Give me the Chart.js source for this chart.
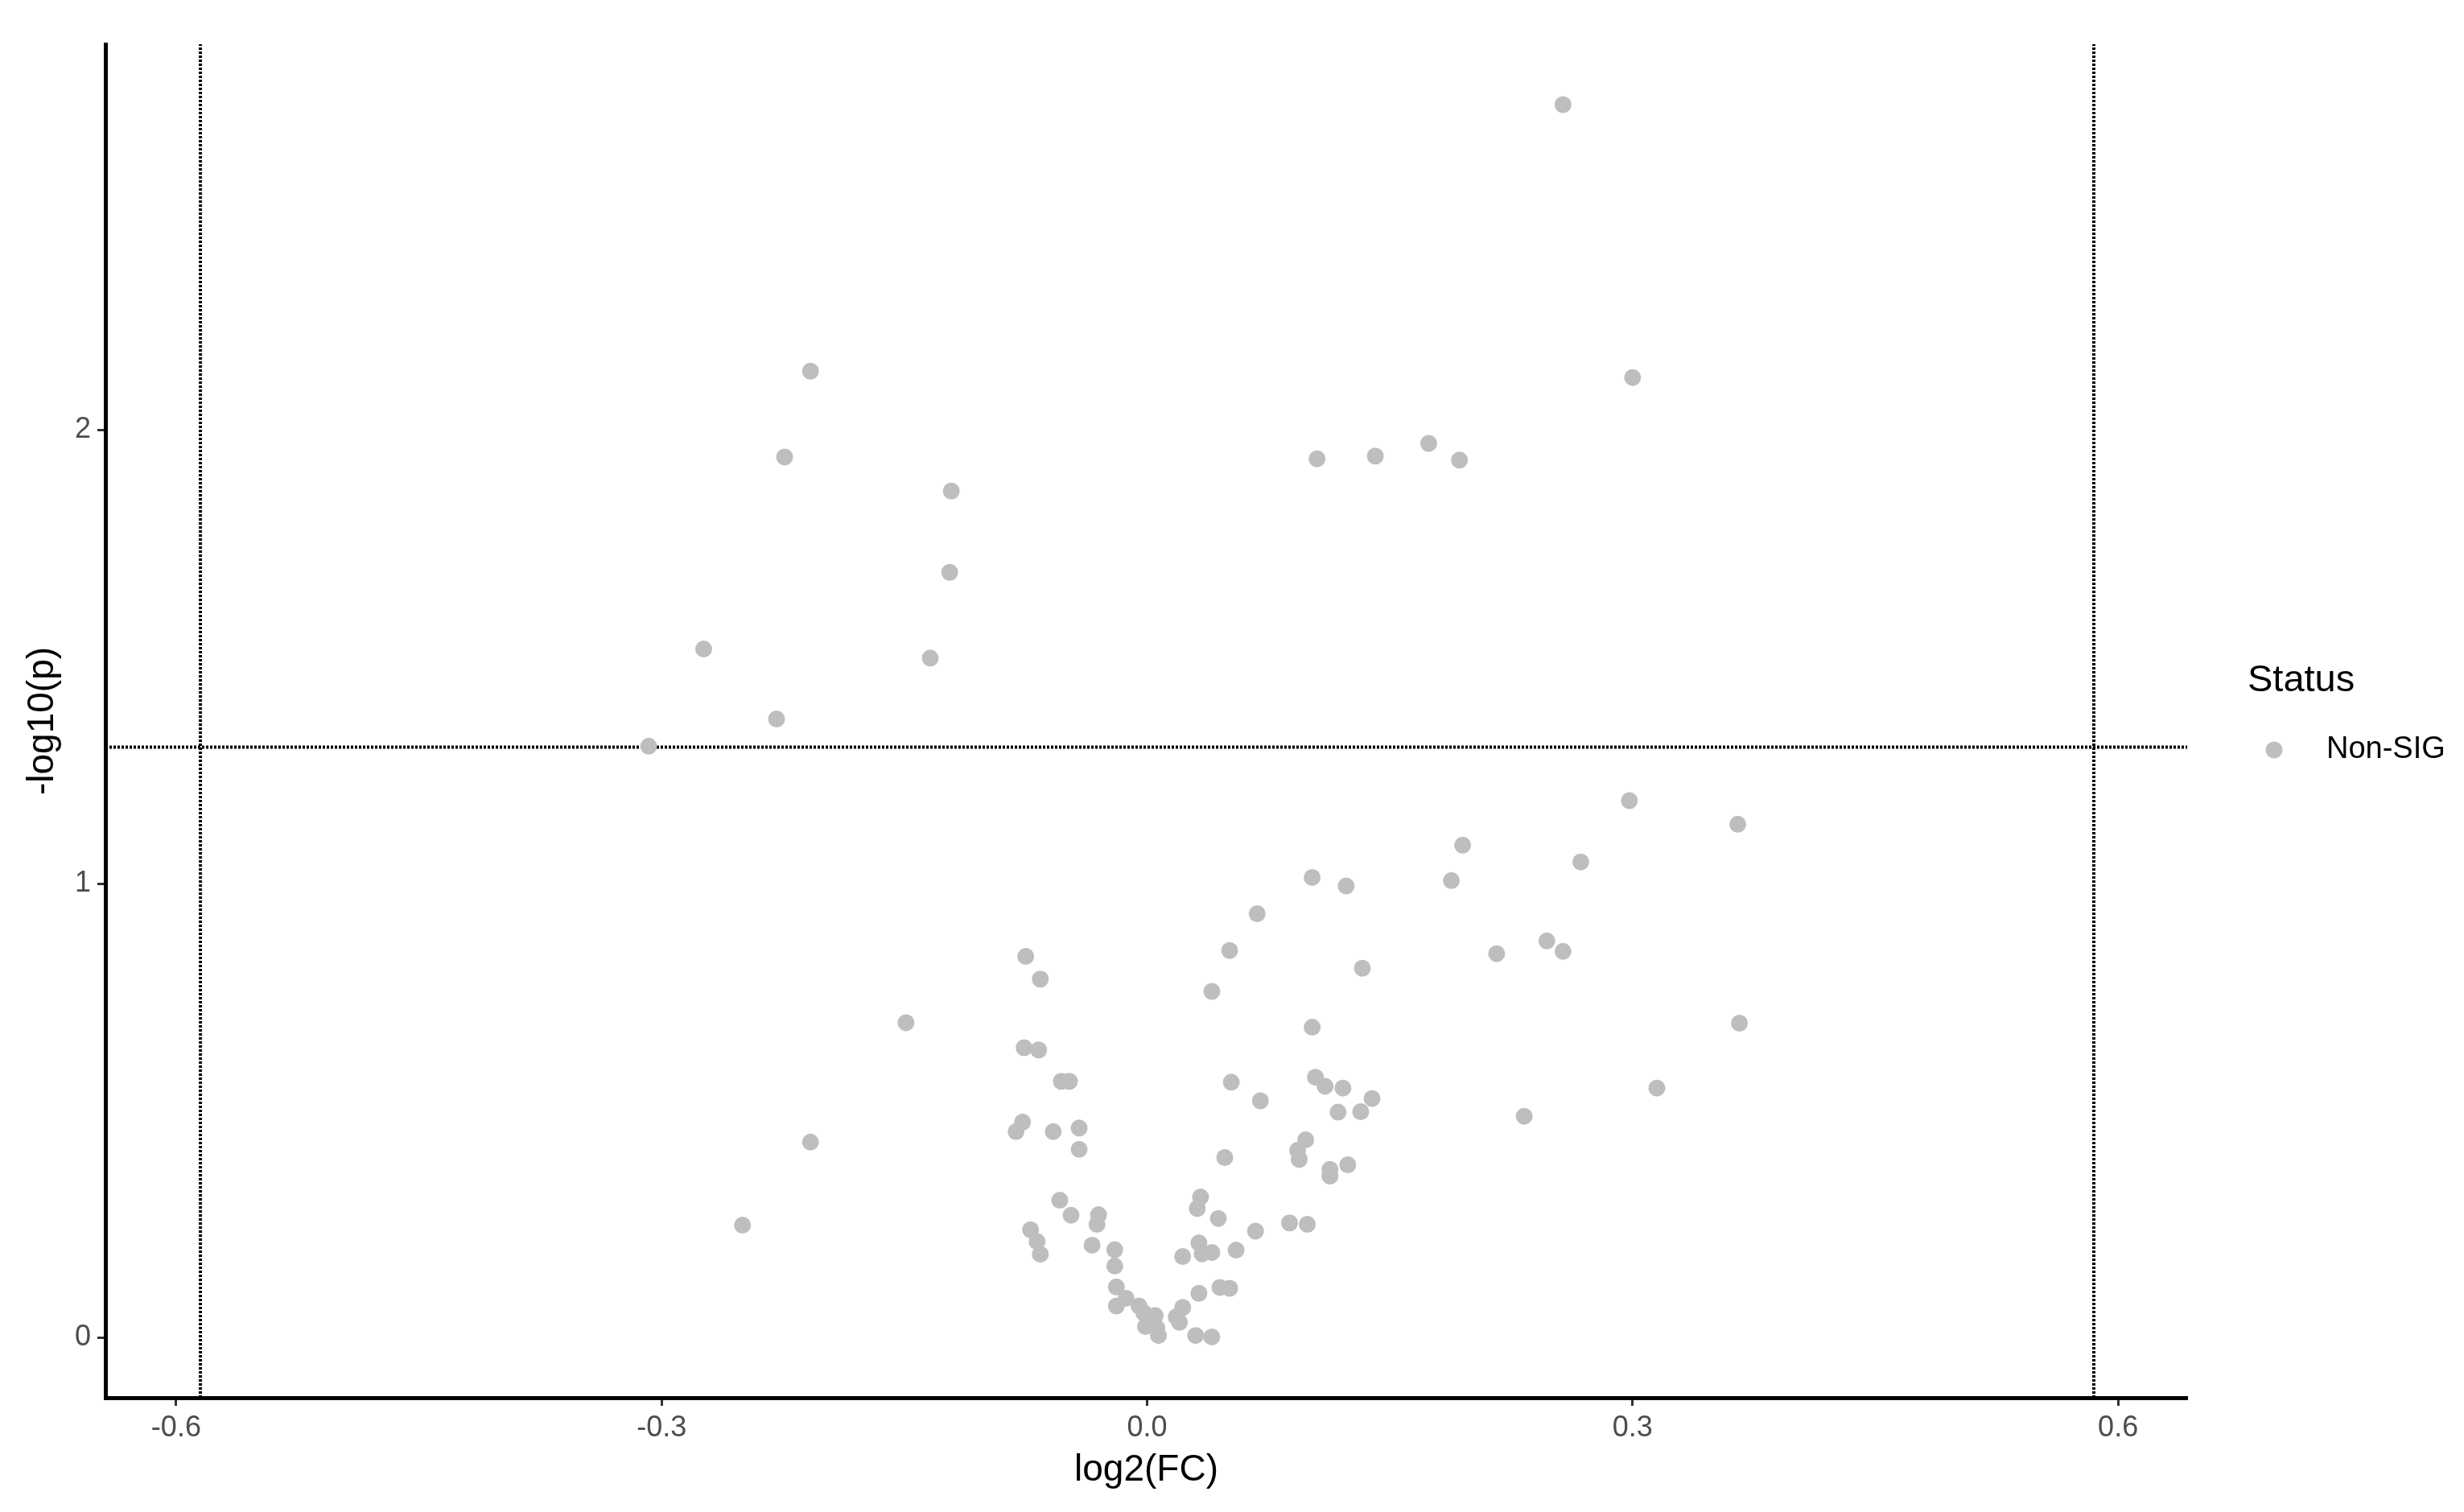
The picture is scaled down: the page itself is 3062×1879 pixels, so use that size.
<!DOCTYPE html>
<html>
<head>
<meta charset="utf-8">
<title>Volcano plot</title>
<script src="https://cdn.jsdelivr.net/npm/chart.js@4.4.1/dist/chart.umd.min.js"></script>
<style>
    body { margin: 0; background: #ffffff; }
    #volcano { display: block; }
</style>
</head>
<body>
<canvas id="volcano" width="3062" height="1879"></canvas>
<script>
// log2 fold change of each feature
const log2FC = [
    0.257, -0.208, 0.300, -0.224, 0.105, 0.141, 0.174, 0.193, -0.121, -0.122,
    -0.274, -0.134, -0.229, -0.308, 0.298, 0.365, 0.195, 0.268, 0.102, 0.123,
    0.188, 0.068, -0.075, 0.051, 0.133, -0.066, 0.040, 0.216, 0.247, 0.257,
    0.102, 0.366, -0.149, -0.076, -0.067, -0.053, -0.048, 0.052, 0.070, 0.104,
    0.110, 0.121, 0.139, 0.118, 0.132, 0.233, 0.315, -0.077, -0.081, -0.058,
    -0.042, -0.042, 0.048, 0.098, 0.093, 0.094, 0.124, 0.113, 0.113, -0.208,
    -0.054, -0.047, -0.030, -0.031, 0.033, 0.031, 0.044, 0.088, 0.099, 0.067,
    -0.072, -0.068, -0.066, -0.034, -0.020, -0.020, 0.032, 0.040, 0.034, 0.022,
    0.055, -0.250, -0.019, 0.045, 0.051, 0.032, -0.013, -0.019, -0.005, -0.002,
    0.005, -0.001, 0.006, 0.007, 0.022, 0.020, 0.018, 0.030, 0.040
];
// -log10(p) for the same features
const negLog10P = [
    2.716, 2.129, 2.115, 1.940, 1.936, 1.942, 1.970, 1.933, 1.865, 1.686,
    1.517, 1.497, 1.363, 1.303, 1.183, 1.131, 1.085, 1.048, 1.014, 0.995,
    1.007, 0.934, 0.840, 0.853, 0.814, 0.790, 0.763, 0.846, 0.874, 0.851,
    0.684, 0.693, 0.694, 0.639, 0.634, 0.565, 0.565, 0.563, 0.522, 0.574,
    0.554, 0.550, 0.527, 0.497, 0.498, 0.488, 0.550, 0.475, 0.454, 0.454,
    0.462, 0.415, 0.397, 0.436, 0.413, 0.393, 0.381, 0.371, 0.356, 0.431,
    0.303, 0.270, 0.271, 0.250, 0.310, 0.285, 0.263, 0.253, 0.250, 0.235,
    0.238, 0.212, 0.184, 0.204, 0.194, 0.158, 0.209, 0.188, 0.185, 0.179,
    0.193, 0.248, 0.112, 0.111, 0.109, 0.098, 0.087, 0.070, 0.070, 0.055,
    0.049, 0.025, 0.022, 0.005, 0.067, 0.034, 0.046, 0.005, 0.002
];
const statusLabel = "Non-SIG";

// threshold lines: |log2FC| = log2(1.5), p = 0.05
const fcCutoffs = [-0.585, 0.585];
const pCutoffs = [1.301];

// axis ranges and ticks
const xRange = [-0.6437, 0.6427];
const yRange = [-0.132, 2.849];
const xTicks = [-0.6, -0.3, 0.0, 0.3, 0.6];
const yTicks = [0, 1, 2];

const FONT = "'Liberation Sans', Arial, sans-serif";
const POINT_GREY = "#BEBEBE";

var points = [];
for (var i = 0; i < log2FC.length; i++) {
    points.push({ x: log2FC[i], y: negLog10P[i] });
}

var datasets = [{
    type: "scatter",
    label: statusLabel,
    data: points,
    backgroundColor: POINT_GREY,
    borderWidth: 0,
    pointRadius: 10.5,
    pointHoverRadius: 10.5,
    order: 0
}];

fcCutoffs.forEach(function (v) {
    datasets.push({
        type: "line",
        label: "fc" + v,
        data: [{ x: v, y: yRange[0] }, { x: v, y: yRange[1] }],
        borderColor: "#000000",
        borderWidth: 4,
        borderDash: [3, 2],
        pointRadius: 0,
        order: 1
    });
});
pCutoffs.forEach(function (v) {
    datasets.push({
        type: "line",
        label: "p" + v,
        data: [{ x: xRange[0], y: v }, { x: xRange[1], y: v }],
        borderColor: "#000000",
        borderWidth: 4,
        borderDash: [3, 2],
        pointRadius: 0,
        order: 1
    });
});

// ggplot-like legend on the right, drawn by hand
const statusLegend = {
    id: "statusLegend",
    afterDraw: function (chart) {
        var ctx = chart.ctx;
        var area = chart.chartArea;
        var cy = (area.top + area.bottom) / 2;
        ctx.save();
        ctx.textBaseline = "middle";
        ctx.textAlign = "left";
        ctx.fillStyle = "#000000";
        ctx.font = "47px " + FONT;
        ctx.fillText("Status", area.right + 75, cy - 50);
        ctx.fillStyle = POINT_GREY;
        ctx.beginPath();
        ctx.arc(area.right + 108, cy + 36, 10.5, 0, Math.PI * 2);
        ctx.fill();
        ctx.fillStyle = "#000000";
        ctx.font = "38px " + FONT;
        ctx.fillText(statusLabel, area.right + 173, cy + 36);
        ctx.restore();
    }
};

const ctx = document.getElementById("volcano").getContext("2d");
var graph = new Chart(ctx, {
    data: { datasets: datasets },
    plugins: [statusLegend],
    options: {
        responsive: false,
        animation: false,
        layout: { padding: { top: 55, right: 344, left: 0, bottom: 0 } },
        plugins: {
            legend: { display: false },
            tooltip: { enabled: false }
        },
        scales: {
            x: {
                type: "linear",
                min: xRange[0],
                max: xRange[1],
                afterBuildTicks: function (scale) {
                    scale.ticks = xTicks.map(function (v) { return { value: v }; });
                },
                afterFit: function (scale) { scale.height = 1879 - 1737; },
                grid: {
                    drawOnChartArea: false,
                    drawTicks: true,
                    tickLength: 10,
                    tickWidth: 3,
                    tickColor: "#333333"
                },
                border: { display: true, color: "#000000", width: 5 },
                ticks: {
                    color: "#4D4D4D",
                    font: { family: FONT, size: 36 },
                    padding: 6,
                    maxRotation: 0,
                    callback: function (v) { return v.toFixed(1); }
                },
                title: {
                    display: true,
                    text: "log2(FC)",
                    color: "#000000",
                    font: { family: FONT, size: 46 },
                    padding: { top: 2, bottom: 24 }
                }
            },
            y: {
                type: "linear",
                min: yRange[0],
                max: yRange[1],
                afterBuildTicks: function (scale) {
                    scale.ticks = yTicks.map(function (v) { return { value: v }; });
                },
                afterFit: function (scale) { scale.width = 131; },
                grid: {
                    drawOnChartArea: false,
                    drawTicks: true,
                    tickLength: 10,
                    tickWidth: 3,
                    tickColor: "#333333"
                },
                border: { display: true, color: "#000000", width: 5 },
                ticks: {
                    color: "#4D4D4D",
                    font: { family: FONT, size: 36 },
                    padding: 8
                },
                title: {
                    display: true,
                    text: "-log10(p)",
                    color: "#000000",
                    font: { family: FONT, size: 46 },
                    padding: { top: 26, bottom: 6 }
                }
            }
        }
    }
});
</script>
</body>
</html>
